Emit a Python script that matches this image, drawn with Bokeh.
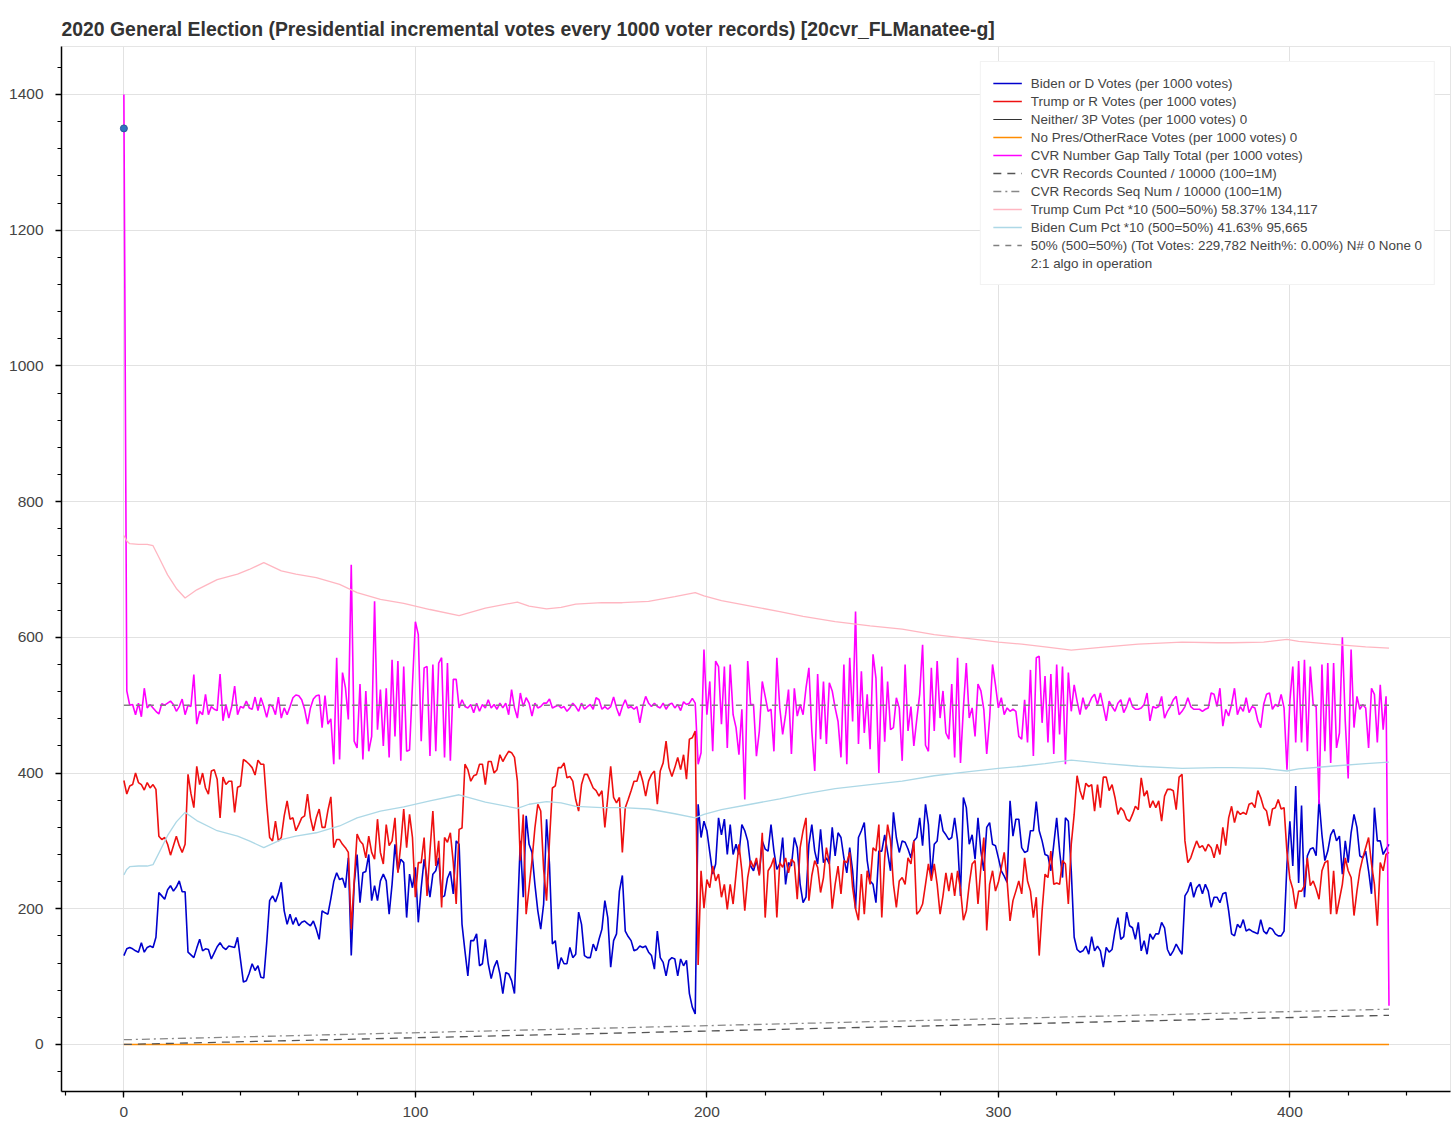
from bokeh.plotting import figure
from bokeh.models import Range1d, SingleIntervalTicker, Legend, LegendItem
from bokeh.embed import file_html
from bokeh.resources import INLINE

# incremental votes, one value per 1000 voter records
biden = [
    131, 141, 143, 141, 138, 136, 150, 136, 143, 145,
    143, 158, 224, 219, 214, 228, 234, 226, 232, 241,
    225, 225, 136, 132, 128, 142, 155, 138, 141, 140,
    126, 135, 144, 150, 143, 140, 145, 144, 143, 158,
    125, 92, 94, 105, 119, 109, 116, 99, 98, 150,
    212, 219, 210, 222, 239, 197, 177, 192, 177, 187,
    175, 180, 182, 178, 175, 182, 170, 155, 197, 194,
    192, 215, 240, 253, 243, 245, 231, 275, 131, 236,
    280, 209, 253, 255, 280, 212, 234, 212, 241, 251,
    241, 192, 236, 295, 255, 273, 268, 187, 251, 231,
    261, 180, 231, 273, 245, 217, 251, 256, 275, 217,
    219, 245, 255, 222, 300, 295, 177, 138, 101, 153,
    153, 163, 116, 119, 155, 119, 97, 114, 124, 104,
    75, 106, 104, 94, 75, 187, 300, 217, 337, 295,
    283, 236, 197, 170, 207, 332, 266, 148, 153, 111,
    128, 119, 119, 143, 128, 133, 195, 177, 131, 128,
    128, 148, 138, 155, 170, 212, 187, 114, 153, 163,
    226, 249, 167, 159, 153, 138, 140, 145, 143, 145,
    136, 131, 111, 167, 128, 121, 101, 124, 128, 126,
    101, 126, 116, 124, 75, 55, 45, 354, 305, 329,
    315, 283, 251, 266, 334, 309, 332, 280, 324, 280,
    295, 280, 324, 315, 300, 263, 256, 271, 251, 300,
    288, 285, 324, 285, 258, 266, 305, 236, 268, 263,
    305, 290, 236, 209, 217, 295, 324, 285, 266, 317,
    268, 275, 266, 320, 278, 312, 305, 275, 253, 290,
    256, 200, 305, 315, 327, 271, 241, 236, 209, 285,
    285, 309, 283, 256, 342, 305, 283, 300, 298, 288,
    275, 300, 305, 334, 293, 354, 324, 246, 295, 300,
    339, 315, 309, 302, 305, 334, 300, 219, 364, 349,
    295, 309, 273, 334, 285, 256, 320, 327, 295, 293,
    275, 256, 248, 239, 359, 307, 332, 332, 290, 283,
    285, 315, 315, 358, 315, 300, 280, 278, 256, 295,
    334, 285, 246, 334, 329, 256, 158, 140, 136, 138,
    145, 133, 159, 138, 145, 138, 114, 143, 136, 140,
    167, 187, 155, 159, 195, 175, 172, 155, 180, 138,
    153, 133, 163, 155, 163, 163, 180, 172, 140, 131,
    138, 148, 140, 133, 219, 226, 239, 217, 231, 236,
    222, 236, 226, 202, 217, 217, 209, 222, 224, 197,
    163, 160, 177, 172, 184, 167, 170, 167, 165, 163,
    184, 167, 163, 172, 170, 163, 160, 160, 167, 266,
    329, 263, 381, 238, 352, 217, 278, 288, 290, 278,
    361, 309, 271, 285, 309, 317, 300, 307, 251, 300,
    268, 312, 339, 320, 278, 275, 285, 256, 222, 349,
    300, 300, 280, 288, 295,
]

trump = [
    389, 369, 381, 383, 400, 386, 383, 375, 386, 378,
    383, 376, 307, 302, 305, 295, 279, 293, 307, 293,
    283, 295, 398, 370, 349, 410, 383, 400, 378, 369,
    403, 405, 391, 334, 394, 383, 388, 388, 342, 379,
    381, 420, 417, 413, 408, 397, 419, 413, 413, 354,
    305, 300, 329, 300, 305, 337, 359, 332, 334, 315,
    324, 334, 337, 369, 334, 315, 334, 347, 320, 320,
    345, 365, 290, 302, 302, 295, 290, 283, 170, 241,
    310, 300, 295, 275, 307, 283, 273, 332, 283, 266,
    324, 293, 300, 334, 253, 295, 347, 290, 339, 305,
    217, 268, 268, 305, 219, 285, 344, 263, 300, 202,
    305, 298, 312, 268, 207, 317, 319, 413, 405, 388,
    396, 398, 413, 413, 383, 417, 417, 400, 405, 427,
    417, 425, 432, 430, 423, 388, 271, 339, 192, 231,
    271, 319, 354, 344, 258, 212, 300, 378, 381, 408,
    408, 415, 393, 395, 388, 361, 344, 383, 398, 398,
    388, 378, 374, 366, 374, 320, 364, 410, 364, 356,
    364, 283, 349, 361, 374, 388, 388, 403, 388, 366,
    388, 398, 403, 354, 403, 415, 447, 408, 395, 408,
    423, 405, 427, 391, 450, 452, 462, 117, 256, 201,
    243, 231, 263, 241, 251, 217, 236, 199, 236, 207,
    251, 295, 256, 197, 246, 271, 261, 275, 249, 312,
    187, 256, 263, 275, 187, 268, 261, 275, 253, 273,
    268, 214, 290, 315, 334, 212, 249, 271, 261, 224,
    246, 290, 268, 200, 236, 263, 222, 271, 268, 283,
    231, 200, 183, 251, 192, 256, 236, 290, 285, 324,
    187, 275, 324, 300, 236, 202, 241, 246, 236, 275,
    266, 300, 192, 197, 207, 236, 266, 241, 266, 236,
    192, 219, 253, 226, 253, 219, 256, 229, 183, 197,
    236, 266, 271, 207, 261, 305, 168, 236, 256, 226,
    239, 260, 283, 241, 182, 212, 226, 241, 222, 275,
    241, 226, 187, 217, 131, 197, 251, 246, 285, 236,
    238, 236, 271, 266, 207, 295, 339, 396, 374, 361,
    385, 380, 383, 344, 383, 349, 394, 394, 374, 383,
    364, 339, 349, 344, 332, 329, 339, 351, 346, 393,
    366, 374, 349, 359, 349, 359, 329, 366, 376, 376,
    374, 346, 394, 398, 300, 268, 275, 288, 300, 290,
    293, 285, 295, 290, 275, 295, 280, 320, 293, 334,
    351, 327, 344, 339, 342, 339, 354, 356, 349, 374,
    364, 349, 344, 322, 347, 349, 361, 347, 349, 283,
    244, 229, 200, 226, 226, 234, 275, 234, 241, 229,
    214, 256, 268, 271, 192, 256, 192, 214, 236, 275,
    256, 246, 190, 226, 256, 275, 290, 305, 266, 236,
    175, 268, 256, 280, 283,
]

gap = [
    1400, 521, 500, 501, 486, 503, 483, 525, 496, 501,
    496, 491, 487, 502, 500, 503, 506, 501, 491, 498,
    509, 486, 500, 498, 545, 472, 491, 486, 516, 486,
    498, 494, 492, 546, 477, 501, 481, 498, 528, 486,
    498, 496, 506, 496, 494, 512, 492, 511, 498, 482,
    501, 498, 486, 512, 481, 496, 486, 498, 511, 515,
    514, 508, 494, 472, 496, 509, 514, 515, 467, 514,
    472, 480, 413, 570, 420, 548, 526, 479, 707, 447,
    437, 531, 420, 521, 432, 454, 653, 464, 523, 440,
    525, 423, 567, 454, 565, 418, 557, 432, 434, 530,
    623, 604, 447, 555, 557, 425, 560, 432, 562, 570,
    423, 562, 418, 538, 538, 496, 508, 498, 496, 501,
    489, 503, 491, 501, 496, 508, 496, 501, 494, 503,
    496, 503, 486, 523, 496, 481, 518, 498, 511, 503,
    484, 503, 496, 498, 503, 503, 509, 496, 498, 500,
    496, 498, 491, 496, 503, 498, 491, 503, 494, 498,
    501, 494, 511, 508, 494, 498, 494, 498, 512, 496,
    484, 498, 508, 496, 498, 494, 498, 474, 498, 513,
    503, 498, 503, 498, 496, 503, 494, 501, 503, 496,
    501, 492, 505, 501, 503, 510, 503, 413, 430, 582,
    486, 535, 432, 565, 557, 472, 557, 437, 560, 486,
    467, 427, 494, 361, 565, 501, 501, 425, 462, 535,
    513, 491, 494, 432, 570, 496, 457, 486, 523, 428,
    525, 484, 501, 486, 525, 555, 462, 403, 546, 450,
    535, 443, 533, 521, 496, 476, 423, 560, 413, 570,
    476, 638, 443, 550, 459, 516, 435, 575, 540, 400,
    557, 446, 535, 464, 467, 511, 496, 418, 560, 462,
    498, 440, 479, 516, 589, 441, 432, 555, 462, 565,
    481, 521, 459, 450, 531, 423, 570, 415, 496, 562,
    481, 496, 454, 531, 521, 494, 428, 481, 560, 530,
    496, 511, 486, 496, 491, 494, 491, 454, 450, 508,
    445, 552, 425, 570, 572, 474, 543, 445, 546, 428,
    560, 457, 557, 413, 548, 491, 530, 506, 486, 511,
    494, 501, 511, 516, 501, 518, 498, 477, 506, 498,
    491, 503, 508, 489, 498, 511, 498, 494, 494, 496,
    501, 518, 477, 498, 496, 498, 513, 481, 491, 498,
    508, 513, 486, 491, 498, 511, 498, 494, 494, 494,
    491, 494, 496, 518, 516, 498, 525, 469, 494, 484,
    501, 525, 486, 498, 491, 511, 489, 498, 496, 477,
    467, 501, 516, 518, 494, 501, 498, 516, 496, 405,
    506, 557, 445, 565, 445, 567, 432, 557, 501, 498,
    354, 560, 432, 562, 415, 562, 437, 459, 600, 476,
    392, 582, 467, 513, 494, 501, 496, 437, 525, 516,
    445, 530, 464, 513, 57,
]

# cumulative percentages *10, read at a few steps
cum_x = [0, 1, 2, 5, 8, 10, 12, 15, 18, 21,
         25, 32, 39, 43, 48, 54, 59, 66, 74, 80,
         88, 96, 105, 115, 124, 135, 139, 145, 150, 155,
         164, 171, 180, 189, 196, 199, 205, 215, 225, 233,
         244, 256, 267, 278, 290, 300, 308, 316, 325, 337,
         348, 363, 375, 380, 391, 399, 403, 414, 426, 434]
biden_cum = [250, 258, 262, 263, 263, 265, 282, 308, 328, 342,
             330, 315, 307, 300, 290, 302, 307, 312, 322, 334,
             344, 350, 359, 368, 357, 348, 354, 358, 356, 351,
             349, 349, 347, 340, 334, 339, 346, 354, 362, 369,
             377, 383, 388, 396, 402, 407, 410, 414, 419, 414,
             410, 407, 408, 408, 407, 403, 406, 410, 414, 416]
trump_cum = [750, 742, 738, 737, 737, 735, 718, 692, 672, 658,
             670, 685, 693, 700, 710, 698, 693, 688, 678, 666,
             656, 650, 641, 632, 643, 652, 646, 642, 644, 649,
             651, 651, 653, 660, 666, 661, 654, 646, 638, 631,
             623, 617, 612, 604, 598, 593, 590, 586, 581, 586,
             590, 593, 592, 592, 593, 597, 594, 590, 586, 584]

# straight reference series
span_x = [0, 434]
records_counted = [0, 43]
records_seq = [7, 52]
neither = [0, 0]
no_pres = [0, 0]
half_mark = [500, 500]

first_x = [0]
first_y = [1350]

labels = [
    "Biden or D Votes (per 1000 votes)",
    "Trump or R Votes (per 1000 votes)",
    "Neither/ 3P Votes (per 1000 votes) 0",
    "No Pres/OtherRace Votes (per 1000 votes) 0",
    "CVR Number Gap Tally Total (per 1000 votes)",
    "CVR Records Counted / 10000 (100=1M)",
    "CVR Records Seq Num / 10000 (100=1M)",
    "Trump Cum Pct *10 (500=50%) 58.37% 134,117",
    "Biden Cum Pct *10 (500=50%) 41.63% 95,665",
    "50% (500=50%) (Tot Votes: 229,782 Neith%: 0.00%) N# 0 None 0",
    "2:1 algo in operation",
]

FONT = "Liberation Sans"

p = figure(width=1452, height=1124, output_backend="svg", toolbar_location=None,
           x_range=Range1d(-21.4, 455.1), y_range=Range1d(-69.3, 1470.7),
           title="2020 General Election (Presidential incremental votes every 1000 voter records) [20cvr_FLManatee-g]",
           min_border_left=61, min_border_right=2, min_border_top=46, min_border_bottom=33)

p.title.text_font = FONT
p.title.text_font_size = "19.4px"
p.title.text_font_style = "bold"
p.title.text_color = "#333333"
p.title.standoff = 13

xt = SingleIntervalTicker(interval=100, num_minor_ticks=5)
yt = SingleIntervalTicker(interval=200, num_minor_ticks=5)
p.xaxis.ticker = xt
p.xgrid.ticker = xt
p.yaxis.ticker = yt
p.ygrid.ticker = yt

for ax in (p.xaxis, p.yaxis):
    ax.axis_line_width = 1.5
    ax.major_tick_line_width = 1.3
    ax.minor_tick_line_width = 1.2
    ax.major_tick_in = 0
    ax.major_tick_out = 6
    ax.minor_tick_in = 0
    ax.minor_tick_out = 4
    ax.major_label_text_font = FONT
    ax.major_label_text_font_size = "15.5px"
    ax.major_label_text_color = "#444444"
p.xaxis.major_label_standoff = 9
p.yaxis.major_label_standoff = 12

p.grid.grid_line_color = "#e2e2e2"
p.outline_line_color = "#e5e5e5"

r_b = p.line(list(range(len(biden))), biden, line_color="mediumblue", line_width=1.6)
r_t = p.line(list(range(len(trump))), trump, line_color="#ee1010", line_width=1.6)
r_n = p.line(span_x, neither, line_color="#333333", line_width=1.2)
r_o = p.line(span_x, no_pres, line_color="darkorange", line_width=1.4)
r_g = p.line(list(range(len(gap))), gap, line_color="magenta", line_width=1.6)
r_c = p.line(span_x, records_counted, line_color="#555555", line_width=1.3, line_dash="8 6")
r_s = p.line(span_x, records_seq, line_color="#888888", line_width=1.3, line_dash="8 4 2 4")
r_tc = p.line(cum_x, trump_cum, line_color="lightpink", line_width=1.3)
r_bc = p.line(cum_x, biden_cum, line_color="lightblue", line_width=1.3)
r_h = p.line(span_x, half_mark, line_color="#808080", line_width=1.5, line_dash="6 6")
r_a = p.line([], [], line_alpha=0)
p.scatter(first_x, first_y, size=7, fill_color="#3070c0", line_color="#2a5a9a")

renderers = [r_b, r_t, r_n, r_o, r_g, r_c, r_s, r_tc, r_bc, r_h, r_a]
legend = Legend(items=[LegendItem(label=lab, renderers=[r]) for lab, r in zip(labels, renderers)],
                location="top_right", margin=15, padding=12, spacing=0,
                glyph_width=29, glyph_height=18, label_height=18, label_standoff=9,
                label_text_font=FONT, label_text_font_size="13.4px", label_text_color="#444444",
                border_line_color="#e5e5e5", background_fill_alpha=1.0)
p.add_layout(legend)

open("out.html", "w").write(file_html(p, INLINE))
